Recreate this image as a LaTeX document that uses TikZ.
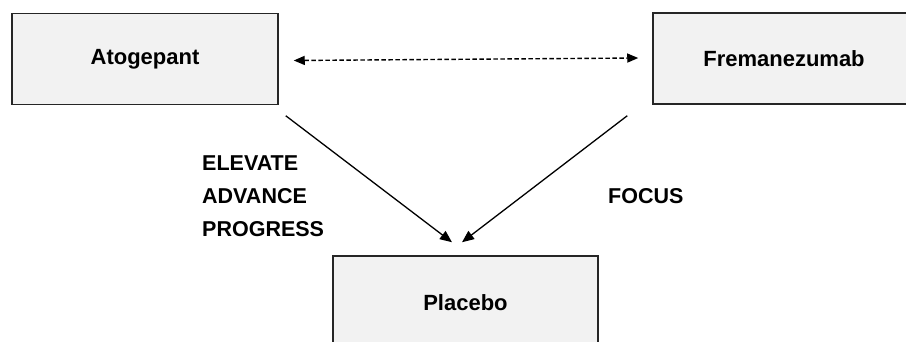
\documentclass[tikz,border=0pt]{standalone}
\usepackage{fontspec}
\setmainfont{Liberation Sans}
\usetikzlibrary{arrows.meta,calc}

\begin{document}
\begin{tikzpicture}[x=1pt, y=-1pt,
    box/.style={draw=black!85, line width=1.5pt, fill=gray!10, inner sep=0pt,
      minimum height=91pt, font=\fontsize{22}{26}\selectfont\bfseries},
    link/.style={line width=1.3pt, -{Triangle[length=12pt,width=10pt]}},
    both/.style={line width=1.4pt, dash pattern=on 4.5pt off 2.5pt,
      {Triangle[length=11pt,width=9pt]}-{Triangle[length=11pt,width=9pt]}},
    trial/.style={align=left, anchor=west, inner sep=0pt,
      font=\fontsize{21.5}{33}\selectfont\bfseries}]

	% Page
	\useasboundingbox (0,0) rectangle (906,342);
	\clip (0,0) rectangle (906,342);

	% Treatments
	\node[box, minimum width=266pt] (atog) at (145,59) {Atogepant};
	\node[box, minimum width=262pt] (frem) at (784,58.5) {Fremanezumab};
	\node[box, minimum width=265pt, minimum height=94pt] (plac) at (465.5,303) {Placebo};

	% Indirect comparison
	\draw[both] ($(atog.east)+(15,1.5)$) -- ($(frem.west)+(-14,-0.5)$);

	% Trials against placebo
	\draw[link] ($(atog.south east)+(7,10.5)$) -- ($(plac.north)+(-13.5,-13)$);
	\draw[link] ($(frem.south west)+(-25,11)$) -- ($(plac.north)+(-3.5,-13)$);

	% Trial names
	\node[trial] (left) at (202,196) {ELEVATE\\ADVANCE\\PROGRESS};
	\node[trial] (right) at (608,196.5) {FOCUS};

\end{tikzpicture}
\end{document}
